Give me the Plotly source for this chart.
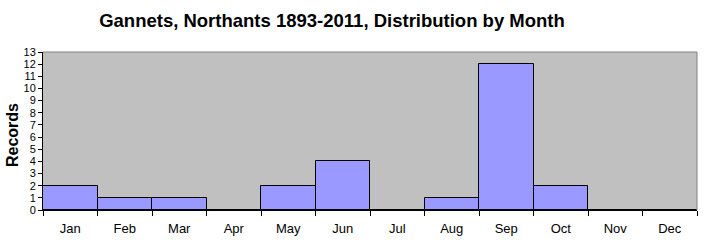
import plotly.graph_objects as go

months = ["Jan", "Feb", "Mar", "Apr", "May", "Jun", "Jul", "Aug", "Sep", "Oct", "Nov", "Dec"]
records = [2, 1, 1, 0, 2, 4, 0, 1, 12, 2, 0, 0]
y_ticks = list(range(0, 14))

fig = go.Figure()
fig.add_trace(go.Bar(
    x=months, y=records,
    marker=dict(color="#9999FF", line=dict(color="black", width=1)),
))

fig.update_layout(
    width=706, height=245,
    margin=dict(l=43, r=9, t=52, b=35, autoexpand=False),
    paper_bgcolor="white", plot_bgcolor="#C0C0C0",
    bargap=0, showlegend=False,
    font=dict(family="Arial, Liberation Sans, sans-serif", color="black"),
    title=dict(text="<b>Gannets, Northants 1893-2011, Distribution by Month</b>",
               x=332 / 706, xanchor="center", xref="container", y=1 - 21 / 245, yanchor="middle",
               font=dict(size=18.5, color="black")),
)
fig.update_xaxes(
    type="category", categoryorder="array", categoryarray=months,
    showline=True, linecolor="black", linewidth=1,
    ticks="outside", tickson="boundaries", ticklen=5, tickcolor="black",
    tickfont=dict(size=13), ticklabelstandoff=6, showgrid=False, zeroline=False,
    automargin=False,
)
fig.update_yaxes(
    range=[0, 13], tickvals=y_ticks, ticktext=[str(v) for v in y_ticks],
    showline=True, linecolor="black", linewidth=1,
    ticks="outside", ticklen=4, tickcolor="black",
    tickfont=dict(size=11), showgrid=False, zeroline=False, automargin=False,
)
fig.add_annotation(text="<b>Records</b>", textangle=-90, showarrow=False,
                   xref="paper", yref="paper", x=-31 / 654, y=(210 - 135) / 158,
                   xanchor="center", yanchor="middle", font=dict(size=16))
fig.add_shape(type="line", xref="paper", yref="paper", x0=0, x1=1, y0=1, y1=1,
              line=dict(color="#808080", width=1))
fig.add_shape(type="line", xref="paper", yref="paper", x0=1, x1=1, y0=0, y1=1,
              line=dict(color="#808080", width=1))

fig.write_html("out.html")
